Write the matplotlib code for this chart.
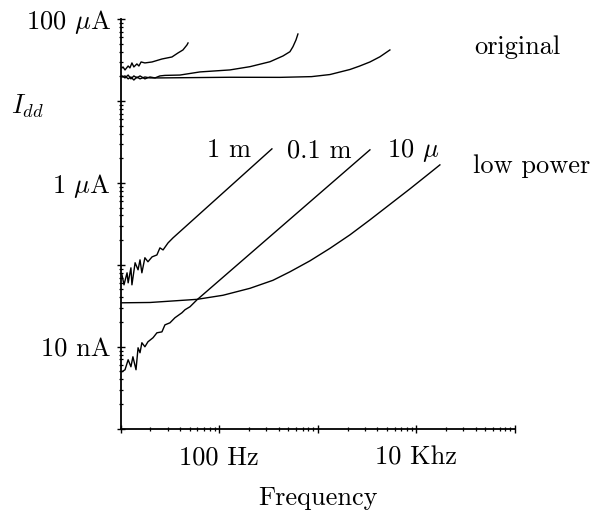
import matplotlib
matplotlib.use("Agg")
import matplotlib.pyplot as plt
from matplotlib.ticker import FixedLocator, FixedFormatter, LogLocator, NullFormatter

plt.rcParams['font.family'] = ['cmr10', 'DejaVu Serif']
plt.rcParams['mathtext.fontset'] = 'cm'
plt.rcParams['axes.unicode_minus'] = False

# ---- data (frequency in Hz, current in A) ----
# "original" design
orig_1m_f = [10.3, 10.55, 11.06, 11.9, 12.4, 13.0, 13.6, 14.6, 15.3, 16.1, 17.6, 20.8, 26.2, 33.1, 38.1, 42.8, 47.0, 48.2]
orig_1m_i = [2.53e-5, 2.60e-5, 2.39e-5, 2.67e-5, 2.53e-5, 2.91e-5, 2.60e-5, 2.83e-5, 2.67e-5, 2.99e-5, 2.91e-5, 2.99e-5,
             3.25e-5, 3.44e-5, 3.85e-5, 4.19e-5, 4.82e-5, 5.10e-5]

orig_01m_f = [10.3, 11.06, 11.9, 12.7, 13.6, 14.6, 15.7, 17.6, 19.8, 22.3, 25.0, 28.1, 39.9, 63.7, 128, 205, 327, 443,
              521, 559, 600, 628]
orig_01m_i = [2.02e-5, 1.91e-5, 2.07e-5, 1.86e-5, 2.02e-5, 1.91e-5, 2.02e-5, 1.86e-5, 1.96e-5, 1.91e-5, 2.02e-5, 2.05e-5,
              2.07e-5, 2.26e-5, 2.39e-5, 2.62e-5, 3.01e-5, 3.54e-5, 3.99e-5, 4.59e-5, 5.55e-5, 6.56e-5]

orig_10u_f = [10.3, 11.06, 11.9, 12.7, 13.6, 14.6, 15.7, 17.6, 19.8, 25.0, 63.7, 128, 413, 863, 1327, 2117, 2642, 3377,
              4265, 5380]
orig_10u_i = [1.96e-5, 2.02e-5, 1.86e-5, 1.96e-5, 1.80e-5, 1.96e-5, 1.86e-5, 1.96e-5, 1.91e-5, 1.91e-5, 1.93e-5,
              1.945e-5, 1.94e-5, 1.98e-5, 2.10e-5, 2.42e-5, 2.66e-5, 2.99e-5, 3.46e-5, 4.19e-5]

# "low power" design
lp_1m_f = [10.3, 10.8, 11.6, 11.9, 12.7, 13.0, 14.0, 15.0, 15.7, 16.4, 17.6, 18.9, 20.8, 23.3, 25.0, 26.9, 30.2, 33.9, 342]
lp_1m_i = [7.55e-8, 5.70e-8, 7.99e-8, 6.03e-8, 9.19e-8, 5.70e-8, 1.06e-7, 8.69e-8, 1.15e-7, 7.99e-8, 1.22e-7, 1.09e-7,
           1.25e-7, 1.32e-7, 1.61e-7, 1.52e-7, 1.85e-7, 2.13e-7, 2.60e-6]

lp_01m_f = [10.3, 11.06, 11.9, 12.7, 13.3, 14.3, 15.0, 15.7, 16.4, 17.6, 18.9, 21.3, 23.3, 26.2, 28.1, 31.6, 35.5, 41.8,
            44.9, 50.5, 59.4, 3375]
lp_01m_i = [4.96e-9, 5.24e-9, 6.94e-9, 5.70e-9, 7.55e-9, 5.24e-9, 9.72e-9, 8.45e-9, 1.12e-8, 1.0e-8, 1.15e-8, 1.29e-8,
            1.48e-8, 1.52e-8, 1.85e-8, 1.96e-8, 2.26e-8, 2.60e-8, 2.83e-8, 3.08e-8, 3.74e-8, 2.53e-6]

lp_10u_f = [10.3, 19.8, 59.4, 109, 205, 350, 521, 832, 1327, 2117, 3377, 5386, 8594, 13710, 17300]
lp_10u_i = [3.44e-8, 3.47e-8, 3.79e-8, 4.25e-8, 5.17e-8, 6.47e-8, 8.22e-8, 1.119e-7, 1.589e-7, 2.322e-7, 3.538e-7,
            5.467e-7, 8.452e-7, 1.324e-6, 1.658e-6]

curves = [(orig_1m_f, orig_1m_i), (orig_01m_f, orig_01m_i), (orig_10u_f, orig_10u_i),
          (lp_1m_f, lp_1m_i), (lp_01m_f, lp_01m_i), (lp_10u_f, lp_10u_i)]

x_major = [10, 100, 1000, 10000, 100000]
x_labels = ['', '100 Hz', '', '10 Khz', '']
y_major = [1e-9, 1e-8, 1e-7, 1e-6, 1e-5, 1e-4]
y_labels = ['', '10 nA', '', r'1 $\mu$A', '', r'100 $\mu$A']

W, H = 591, 512
fig = plt.figure(figsize=(W / 100, H / 100), dpi=100)
ax = fig.add_axes([120.7 / W, 1 - 428.7 / H, 394.3 / W, 409.7 / H])

for f, i in curves:
    ax.plot(f, i, color='black', lw=1.0)

ax.set_xscale('log')
ax.set_yscale('log')
ax.set_xlim(10, 1e5)
ax.set_ylim(1e-9, 1e-4)

ax.xaxis.set_major_locator(FixedLocator(x_major))
ax.xaxis.set_major_formatter(FixedFormatter(x_labels))
ax.xaxis.set_minor_locator(LogLocator(base=10, subs=range(2, 10), numticks=20))
ax.xaxis.set_minor_formatter(NullFormatter())
ax.yaxis.set_major_locator(FixedLocator(y_major))
ax.yaxis.set_major_formatter(FixedFormatter(y_labels))
ax.yaxis.set_minor_locator(LogLocator(base=10, subs=range(2, 10), numticks=20))
ax.yaxis.set_minor_formatter(NullFormatter())

for s in ['top', 'right']:
    ax.spines[s].set_visible(False)
for s in ['left', 'bottom']:
    ax.spines[s].set_linewidth(1.3)

ax.tick_params(which='major', direction='inout', length=6, width=1.0, labelsize=19)
ax.tick_params(which='minor', direction='inout', length=3.5, width=0.9)
ax.tick_params(axis='x', which='major', pad=9)
ax.tick_params(axis='y', which='major', pad=4)

ax.set_xlabel('Frequency', fontsize=19, labelpad=12)

def ftext(x, y, s, **kw):
    fig.text(x / W, 1 - y / H, s, fontsize=19, va='baseline', **kw)

ftext(11, 114, r'$I_{dd}$')
ftext(474, 54, 'original')
ftext(473, 173, 'low power')
ftext(207, 157, '1 m')
ftext(287, 157, '0.1 m')
ftext(387, 157, r'10 $\mu$')

fig.savefig('out.png', dpi=100)
